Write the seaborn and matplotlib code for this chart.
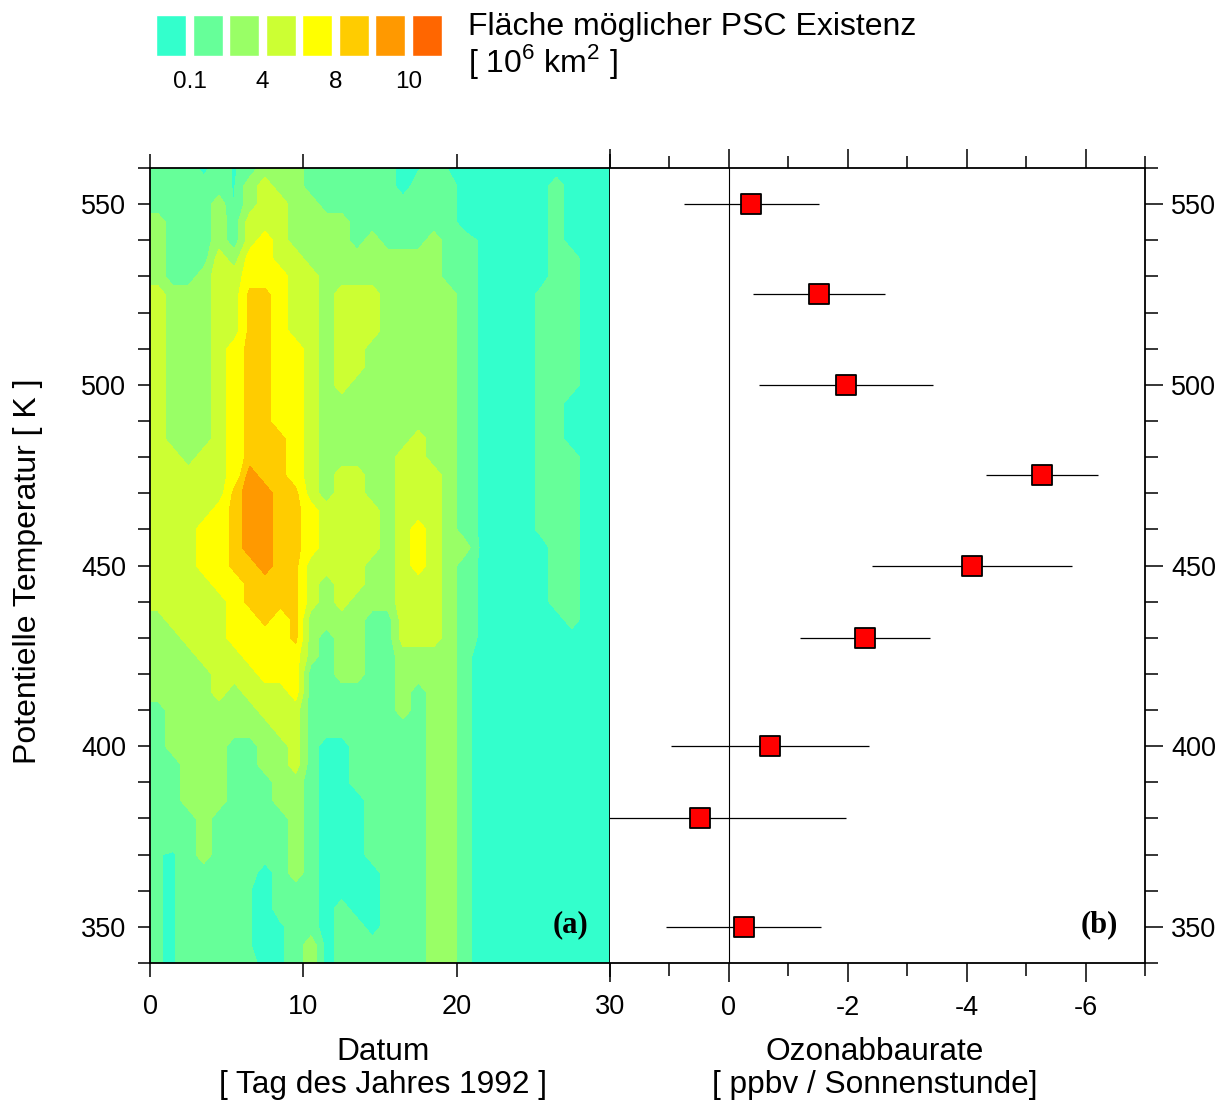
"""
PSC area (contours) and ozone loss rate (profile) vs. potential temperature
"""
import numpy as np
import matplotlib
matplotlib.use("Agg")
import matplotlib.pyplot as plt
import seaborn as sns
from matplotlib.ticker import MultipleLocator

# ---------------------------------------------
# data
# ---------------------------------------------
days = np.arange(0.5, 30.0, 1.0)              # day-of-year column centres
theta_rows = np.arange(560, 335, -5)          # potential temperature rows [K]

# area of possible PSC existence [10^6 km^2], rows from 560 K down to 340 K
psc_area = [
    [1, 1, 1, 0.2, 1, 0.4, 1, 3, 3, 3,  1, 1, 1, 1, 1, 1, 0, 0.4, 1, 0.4,  0, 0, 0, 0, 0, 0, 0, 0, 0, 0],  # 560
    [1, 1, 1, 1, 1, 0.4, 3, 5, 3, 3,  1, 1, 1, 1, 1, 1, 0, 1, 1, 1,  0, 0, 0, 0, 0, 0, 1, 0, 0, 0],  # 555
    [1, 1, 1, 1, 3, 0.4, 3, 5, 5, 3,  3, 1, 1, 1, 1, 1, 1, 1, 1, 1,  0, 0, 0, 0, 0, 0, 1, 0, 0, 0],  # 550
    [3, 1, 1, 1, 3, 1, 5, 5, 5, 3,  3, 3, 3, 1, 1, 1, 1, 1, 1, 1,  0, 0, 0, 0, 0, 0, 1, 0, 0, 0],  # 545
    [3, 1, 1, 1, 3, 1, 5, 7, 5, 3,  3, 3, 3, 1, 3, 1, 1, 1, 3, 1,  1, 0.4, 0, 0, 0, 0, 1, 0, 0, 0],  # 540
    [3, 1, 1, 1, 5, 3, 7, 7, 5, 5,  3, 3, 3, 3, 3, 3, 3, 3, 3, 1,  1, 0.4, 0, 0, 0, 0, 1, 1, 0, 0],  # 535
    [3, 1, 1, 3, 5, 5, 7, 7, 7, 5,  5, 3, 3, 3, 3, 3, 3, 3, 3, 1,  1, 0.4, 0, 0, 0, 0, 1, 1, 0, 0],  # 530
    [5, 3, 3, 3, 5, 5, 8.5, 8.5, 7, 5,  5, 3, 5, 5, 5, 3, 3, 3, 3, 3,  1, 0.4, 0, 0, 0, 0.8, 1, 1, 0, 0],  # 525
    [5, 3, 3, 3, 5, 5, 8.5, 8.5, 7, 5,  5, 3, 5, 5, 5, 3, 3, 3, 3, 3,  1, 0.4, 0, 0, 0, 0.8, 1, 1, 0, 0],  # 520
    [5, 3, 3, 3, 5, 5, 8.5, 8.5, 7, 5,  5, 3, 5, 5, 5, 3, 3, 3, 3, 3,  1, 0.4, 0, 0, 0, 0.8, 1, 1, 0, 0],  # 515
    [5, 3, 3, 3, 5, 7, 8.5, 8.5, 7, 7,  5, 3, 5, 5, 3, 3, 3, 3, 3, 3,  1, 0.4, 0, 0, 0, 0.8, 1, 1, 0, 0],  # 510
    [5, 3, 3, 3, 5, 7, 8.5, 8.5, 7, 7,  5, 3, 5, 5, 3, 3, 3, 3, 3, 3,  1, 0.4, 0, 0, 0, 0.8, 1, 1, 0, 0],  # 505
    [5, 3, 3, 3, 5, 7, 8.5, 8.5, 7, 7,  5, 3, 5, 3, 3, 3, 3, 3, 3, 3,  1, 0.4, 0, 0, 0, 0.8, 1, 1, 0, 0],  # 500
    [5, 3, 3, 3, 5, 7, 8.5, 8.5, 7, 7,  5, 3, 3, 3, 3, 3, 3, 3, 3, 3,  1, 0.4, 0, 0, 0, 0.8, 1, 0, 0, 0],  # 495
    [5, 3, 3, 3, 5, 7, 8.5, 8.5, 7, 7,  5, 3, 3, 3, 3, 3, 3, 3, 3, 3,  1, 0.4, 0, 0, 0, 0.8, 1, 0, 0, 0],  # 490
    [5, 3, 3, 3, 5, 7, 8.5, 8.5, 8.5, 7,  5, 3, 3, 3, 3, 3, 3, 5, 3, 3,  1, 0.4, 0, 0, 0, 0.8, 1, 0, 0, 0],  # 485
    [5, 5, 3, 5, 5, 7, 8.5, 8.5, 8.5, 7,  5, 3, 3, 3, 3, 3, 5, 5, 3, 3,  1, 0.4, 0, 0, 0, 0.8, 1, 1, 0, 0],  # 480
    [5, 5, 5, 5, 5, 7, 9.5, 8.5, 8.5, 7,  5, 3, 5, 5, 3, 3, 5, 5, 5, 3,  1, 0.4, 0, 0, 0, 0.8, 1, 1, 0, 0],  # 475
    [5, 5, 5, 5, 5, 8.5, 9.5, 9.5, 8.5, 8.5,  5, 3, 5, 5, 3, 3, 5, 5, 5, 3,  1, 0.4, 0, 0, 0, 0.8, 1, 1, 0, 0],  # 470
    [5, 5, 5, 5, 7, 8.5, 9.5, 9.5, 8.5, 8.5,  7, 5, 5, 5, 5, 3, 5, 5, 5, 3,  1, 0.4, 0, 0, 0, 0.8, 1, 1, 0, 0],  # 465
    [5, 5, 5, 7, 7, 8.5, 9.5, 9.5, 8.5, 8.5,  7, 5, 5, 5, 5, 3, 5, 7, 5, 3,  1, 0.4, 0, 0, 0, 0.8, 1, 1, 0, 0],  # 460
    [5, 5, 5, 7, 7, 8.5, 9.5, 9.5, 8.5, 8.5,  7, 5, 5, 5, 5, 3, 5, 7, 5, 3,  3, 0.4, 0, 0, 0, 0, 1, 1, 0, 0],  # 455
    [5, 5, 5, 7, 7, 8.5, 8.5, 9.5, 8.5, 8.5,  5, 5, 5, 5, 3, 3, 5, 7, 5, 3,  1, 0.4, 0, 0, 0, 0, 1, 1, 0, 0],  # 450
    [5, 5, 5, 5, 7, 7, 8.5, 8.5, 8.5, 8.5,  5, 3, 5, 5, 3, 3, 5, 5, 5, 3,  1, 0.4, 0, 0, 0, 0, 1, 1, 0, 0],  # 445
    [5, 5, 5, 5, 5, 7, 8.5, 8.5, 8.5, 8.5,  5, 3, 5, 3, 3, 3, 5, 5, 5, 3,  1, 0.4, 0, 0, 0, 0, 1, 1, 0, 0],  # 440
    [3, 5, 5, 5, 5, 7, 7, 8.5, 7, 8.5,  3, 3, 3, 3, 1, 1, 5, 5, 5, 3,  1, 0.4, 0, 0, 0, 0, 0, 1, 0, 0],  # 435
    [3, 3, 5, 5, 5, 7, 7, 7, 7, 8.5,  3, 1, 3, 3, 1, 1, 5, 5, 5, 3,  1, 0.4, 0, 0, 0, 0, 0, 0, 0, 0],  # 430
    [3, 3, 3, 5, 5, 5, 7, 7, 7, 7,  3, 1, 3, 3, 1, 1, 3, 3, 3, 3,  1, 0, 0, 0, 0, 0, 0, 0, 0, 0],  # 425
    [3, 3, 3, 3, 5, 5, 5, 7, 7, 7,  1, 1, 3, 3, 1, 1, 3, 3, 3, 3,  1, 0, 0, 0, 0, 0, 0, 0, 0, 0],  # 420
    [3, 3, 3, 3, 5, 3, 5, 5, 5, 7,  1, 1, 1, 1, 1, 1, 3, 1, 3, 3,  1, 0, 0, 0, 0, 0, 0, 0, 0, 0],  # 415
    [1, 3, 3, 3, 3, 3, 3, 5, 5, 5,  1, 1, 1, 1, 1, 1, 3, 1, 3, 3,  1, 0, 0, 0, 0, 0, 0, 0, 0, 0],  # 410
    [1, 3, 3, 3, 3, 3, 3, 3, 5, 5,  1, 1, 1, 1, 1, 1, 1, 1, 3, 3,  1, 0, 0, 0, 0, 0, 0, 0, 0, 0],  # 405
    [1, 3, 3, 3, 3, 1, 1, 3, 3, 5,  1, 0, 0, 1, 1, 1, 1, 1, 3, 3,  1, 0, 0, 0, 0, 0, 0, 0, 0, 0],  # 400
    [1, 1, 3, 3, 3, 1, 1, 3, 3, 5,  1, 0, 0, 1, 1, 1, 1, 1, 3, 3,  1, 0, 0, 0, 0, 0, 0, 0, 0, 0],  # 395
    [1, 1, 3, 3, 3, 1, 1, 1, 3, 3,  1, 0, 0, 1, 1, 1, 1, 1, 3, 3,  1, 0, 0, 0, 0, 0, 0, 0, 0, 0],  # 390
    [1, 1, 3, 3, 3, 1, 1, 1, 3, 3,  1, 0, 0, 0, 1, 1, 1, 1, 3, 3,  1, 0, 0, 0, 0, 0, 0, 0, 0, 0],  # 385
    [1, 1, 1, 3, 1, 1, 1, 1, 1, 3,  1, 0, 0, 0, 1, 1, 1, 1, 3, 3,  1, 0, 0, 0, 0, 0, 0, 0, 0, 0],  # 380
    [1, 1, 1, 3, 1, 1, 1, 1, 1, 3,  1, 0, 0, 0, 1, 1, 1, 1, 3, 3,  1, 0, 0, 0, 0, 0, 0, 0, 0, 0],  # 375
    [0.55, 0.4, 1, 3, 1, 1, 1, 1, 1, 3,  1, 0, 0, 0, 1, 1, 1, 1, 3, 3,  1, 0, 0, 0, 0, 0, 0, 0, 0, 0],  # 370
    [0.55, 0.4, 1, 1, 1, 1, 1, 0, 1, 3,  1, 0, 0, 0, 0, 1, 1, 1, 3, 3,  1, 0, 0, 0, 0, 0, 0, 0, 0, 0],  # 365
    [0.55, 0.4, 1, 1, 1, 1, 0.55, 0, 1, 1,  1, 0, 0, 0, 0, 1, 1, 1, 3, 3,  1, 0, 0, 0, 0, 0, 0, 0, 0, 0],  # 360
    [0.55, 0.4, 1, 1, 1, 1, 0.55, 0, 1, 1,  1, 0, 1, 0, 0, 1, 1, 1, 3, 3,  1, 0, 0, 0, 0, 0, 0, 0, 0, 0],  # 355
    [0.55, 0.4, 1, 1, 1, 1, 0.55, 0, 0.3, 1,  1, 0, 1, 1, 0, 1, 1, 1, 3, 3,  1, 0, 0, 0, 0, 0, 0, 0, 0, 0],  # 350
    [0.55, 0.4, 1, 1, 1, 1, 0.55, 0, 0.3, 1,  3, 0, 1, 1, 1, 1, 1, 1, 3, 3,  1, 0, 0, 0, 0, 0, 0, 0, 0, 0],  # 345
    [0.55, 0.4, 1, 1, 1, 1, 1, 0, 0.3, 1,  3, 0, 1, 1, 1, 1, 1, 1, 3, 3,  1, 0, 0, 0, 0, 0, 0, 0, 0, 0],  # 340
]

# filled-contour class boundaries and colours (first boundary drawn halfway
# between "none" and the lowest class)
level_bounds = [-1, 0.5, 2, 4, 6, 8, 9, 10, 14]
level_colors = ["#33FFCC", "#66FF99", "#99FF66", "#CCFF33",
                "#FFFF00", "#FFCC00", "#FF9900", "#FF6600"]
legend_ticks = [0.5, 2.5, 4.5, 6.5]
legend_labels = ["0.1", "4", "8", "10"]

# ozone loss rate profile [ppbv / sunlit hour]
theta_pts = [550, 525, 500, 475, 450, 430, 400, 380, 350]
ozone_rate = [-0.38, -1.51, -1.97, -5.27, -4.09, -2.29, -0.69, 0.48, -0.25]
rate_err = [1.14, 1.11, 1.47, 0.94, 1.68, 1.09, 1.66, 2.45, 1.30]

rate_ticks = [2, 0, -2, -4, -6]
rate_ticklabels = ["", "0", "-2", "-4", "-6"]

# ---------------------------------------------
# style
# ---------------------------------------------
W, H = 1222, 1101
sns.set_theme(style="ticks")
plt.rcParams["font.family"] = ["Liberation Sans", "DejaVu Sans"]
plt.rcParams["mathtext.fontset"] = "custom"
plt.rcParams["mathtext.rm"] = "Liberation Sans"
plt.rcParams["axes.unicode_minus"] = False
for key in ["axes.edgecolor", "xtick.color", "ytick.color", "text.color",
            "axes.labelcolor", "xtick.labelcolor", "ytick.labelcolor"]:
    plt.rcParams[key] = "black"

TICK_FS = 19.5
LABEL_FS = 22.8


def px_box(x0, y0, x1, y1):
    """figure-fraction rectangle from pixel corners (top-left origin)"""
    return [x0 / W, 1 - y1 / H, (x1 - x0) / W, (y1 - y0) / H]


fig = plt.figure(figsize=(W / 100, H / 100), dpi=100)
ax_a = fig.add_axes(px_box(150, 168, 610, 963))
ax_b = fig.add_axes(px_box(610, 168, 1145, 963))

# ---------------------------------------------
# (a) PSC area contours
# ---------------------------------------------
Z = np.array(psc_area, dtype=float)[::-1]
theta_grid = theta_rows[::-1]
Z = np.pad(Z, ((0, 0), (1, 1)), mode="edge")
x_grid = np.concatenate([[0.0], days, [30.0]])

ax_a.contourf(x_grid, theta_grid, Z, levels=level_bounds, colors=level_colors)
ax_a.set_xlim(0, 30)
ax_a.set_ylim(340, 560)
ax_a.xaxis.set_major_locator(MultipleLocator(10))
ax_a.yaxis.set_major_locator(MultipleLocator(50))
ax_a.yaxis.set_minor_locator(MultipleLocator(10))
ax_a.tick_params(axis="x", which="major", direction="out", top=True, bottom=True,
                 labeltop=False, labelbottom=True, length=10, width=1.1,
                 pad=12.5, labelsize=TICK_FS)
ax_a.tick_params(axis="y", which="both", direction="out", left=True, right=False,
                 length=8.6, width=1.1, pad=8.5, labelsize=TICK_FS)
for sp in ax_a.spines.values():
    sp.set_linewidth(1.3)
ax_a.text(27.45, 350.5, "(a)", ha="center", va="center", fontsize=22,
          fontweight="bold", family="Liberation Serif")

# ---------------------------------------------
# (b) ozone loss rate
# ---------------------------------------------
ax_b.axvline(0, color="black", lw=0.8, zorder=1)
ax_b.errorbar(ozone_rate, theta_pts, xerr=rate_err, fmt="none",
              ecolor="black", elinewidth=0.9, capsize=0, zorder=2)
sns.scatterplot(x=ozone_rate, y=theta_pts, marker="s", s=225, color="#FF0000",
                edgecolor="black", linewidth=1.3, ax=ax_b, zorder=3)
ax_b.set_xlim(2, -7)
ax_b.set_ylim(340, 560)
ax_b.set_xticks(rate_ticks, rate_ticklabels)
ax_b.set_xticks([1, -1, -3, -5, -7], minor=True)
ax_b.yaxis.tick_right()
ax_b.yaxis.set_major_locator(MultipleLocator(50))
ax_b.yaxis.set_minor_locator(MultipleLocator(10))
ax_b.tick_params(axis="x", which="both", direction="out", top=True, bottom=True,
                 labeltop=False, width=1.1, pad=9.5, labelsize=TICK_FS)
ax_b.tick_params(axis="x", which="major", length=13.5)
ax_b.tick_params(axis="x", which="minor", length=9)
ax_b.tick_params(axis="y", which="both", direction="out", left=False, right=True,
                 labelleft=False, labelright=True, width=1.1, pad=6,
                 labelsize=TICK_FS)
ax_b.tick_params(axis="y", which="major", length=13)
ax_b.tick_params(axis="y", which="minor", length=9.3)
ax_b.spines["left"].set_visible(False)
for side in ["top", "right", "bottom"]:
    ax_b.spines[side].set_linewidth(1.3)
ax_b.set_xlabel("")
ax_b.set_ylabel("")
ax_b.text(-6.23, 350.5, "(b)", ha="center", va="center", fontsize=22,
          fontweight="bold", family="Liberation Serif")

# ---------------------------------------------
# axis titles
# ---------------------------------------------
fig.text(383 / W, 1 - 1060 / H, "Datum", ha="center", va="baseline", fontsize=LABEL_FS)
fig.text(383 / W, 1 - 1093 / H, "[ Tag des Jahres 1992 ]", ha="center",
         va="baseline", fontsize=LABEL_FS)
fig.text(875 / W, 1 - 1060 / H, "Ozonabbaurate", ha="center", va="baseline",
         fontsize=LABEL_FS)
fig.text(875 / W, 1 - 1093 / H, "[ ppbv / Sonnenstunde]", ha="center",
         va="baseline", fontsize=LABEL_FS)
fig.text(28 / W, 1 - 571 / H, "Potentielle Temperatur [ K ]", rotation=90,
         ha="center", va="center", fontsize=23)

# ---------------------------------------------
# colour key
# ---------------------------------------------
ax_leg = fig.add_axes(px_box(153, 15, 445, 56))
ax_leg.bar(range(len(level_colors)), [1] * len(level_colors), width=0.835,
           color=level_colors)
ax_leg.set_xlim(-0.5, len(level_colors) - 0.5)
ax_leg.set_ylim(0, 1)
ax_leg.axis("off")
for pos, lab in zip(legend_ticks, legend_labels):
    ax_leg.text(pos, -0.78, lab, ha="center", va="baseline", fontsize=17.5)

fig.text(468 / W, 1 - 35 / H, "Fläche möglicher PSC Existenz", ha="left",
         va="baseline", fontsize=23)
fig.text(468 / W, 1 - 72 / H, r"[ 10$^{6}$ km$^{2}$ ]", ha="left",
         va="baseline", fontsize=23)

fig.savefig("out.png", dpi=100)
